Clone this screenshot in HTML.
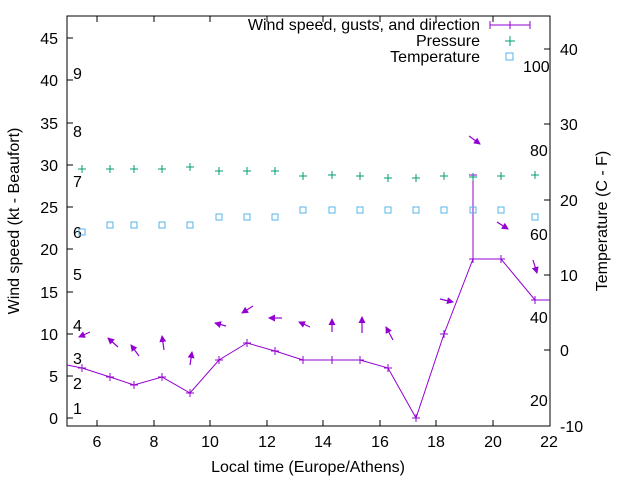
<!DOCTYPE html>
<html><head><style>body{margin:0;background:#fff}svg{display:block;font-family:"Liberation Sans",sans-serif}</style></head><body>
<svg width="640" height="480" viewBox="0 0 640 480">
<defs><marker id="a" markerWidth="7" markerHeight="7" refX="6" refY="3.5" orient="auto" markerUnits="userSpaceOnUse"><path d="M0,0 L7,3.5 L0,7 Z" fill="#9400d3"/></marker></defs>
<rect x="67" y="16" width="483" height="410" fill="none" stroke="#000"/>
<g stroke="#000">
<path d="M67,418h6M67,376h6M67,334h6M67,292h6M67,249h6M67,207h6M67,165h6M67,123h6M67,80h6M67,38h6"/>
<path d="M97,426v-6M154,426v-6M210,426v-6M267,426v-6M323,426v-6M380,426v-6M436,426v-6M493,426v-6M97,16v6M154,16v6M210,16v6M267,16v6M323,16v6M380,16v6M436,16v6M493,16v6"/>
<path d="M550,426h-6M550,350h-6M550,275h-6M550,200h-6M550,124h-6M550,49h-6"/>
</g>
<g font-size="16" fill="#000" text-anchor="end">
<text x="58" y="424">0</text><text x="58" y="382">5</text><text x="58" y="340">10</text><text x="58" y="298">15</text><text x="58" y="255">20</text><text x="58" y="213">25</text><text x="58" y="171">30</text><text x="58" y="129">35</text><text x="58" y="86">40</text><text x="58" y="44">45</text>
</g>
<g font-size="16" fill="#000" text-anchor="middle">
<text x="97" y="447">6</text><text x="154" y="447">8</text><text x="210" y="447">10</text><text x="267" y="447">12</text><text x="323" y="447">14</text><text x="380" y="447">16</text><text x="436" y="447">18</text><text x="493" y="447">20</text><text x="549" y="447">22</text>
</g>
<g font-size="16" fill="#000">
<text x="560" y="432">-10</text><text x="560" y="356">0</text><text x="560" y="281">10</text><text x="560" y="206">20</text><text x="560" y="130">30</text><text x="560" y="55">40</text>
<text x="73" y="414">1</text><text x="73" y="389">2</text><text x="73" y="364">3</text><text x="73" y="331">4</text><text x="73" y="280">5</text><text x="73" y="238">6</text><text x="73" y="187">7</text><text x="73" y="137">8</text><text x="73" y="79">9</text>
<text x="523" y="72">100</text><text x="530" y="156">80</text><text x="530" y="240">60</text><text x="530" y="323">40</text><text x="530" y="406">20</text>
</g>
<text x="308" y="472" font-size="16" text-anchor="middle">Local time (Europe/Athens)</text>
<text transform="translate(19,221) rotate(-90)" font-size="16" text-anchor="middle">Wind speed (kt - Beaufort)</text>
<text transform="translate(607,221) rotate(-90)" font-size="16" text-anchor="middle">Temperature (C - F)</text>
<g font-size="16" text-anchor="end">
<text x="480" y="30">Wind speed, gusts, and direction</text><text x="480" y="46">Pressure</text><text x="480" y="62">Temperature</text>
</g>
<path d="M490,25h40M490,21v8M530,21v8M510,21v8" stroke="#9400d3"/>
<path d="M505,41h10M510,36v10" stroke="#009e73"/>
<rect x="506" y="53" width="7" height="7" fill="none" stroke="#56b4e9"/>
<g stroke="#9400d3" fill="none">
<polyline points="67,365 82,368 110,377 134,385 162,377 190,393 219,360 247,343 275,351 303,360 332,360 360,360 388,368 416,418 444,334 473,259 501,259 535,300 550,300"/>
<path d="M473,259V175M469,175h8"/>
<path d="M82,364v8M110,373v8M134,381v8M162,373v8M190,389v8M219,356v8M247,339v8M275,347v8M303,356v8M332,356v8M360,356v8M388,364v8M416,414v8M444,330v8M473,255v8M501,255v8M535,296v8"/>
<path d="M78,368h8M106,377h8M130,385h8M158,377h8M186,393h8M215,360h8M243,343h8M271,351h8M299,360h8M328,360h8M356,360h8M384,368h8M412,418h8M440,334h8M469,259h8M497,259h8M531,300h8"/>
<g marker-end="url(#a)" stroke-width="1.2">
<line x1="90" y1="332" x2="79" y2="337"/><line x1="118" y1="347" x2="108" y2="338"/><line x1="139" y1="356" x2="131" y2="345"/><line x1="164" y1="350" x2="162" y2="336"/><line x1="190" y1="365" x2="192" y2="352"/><line x1="226" y1="326" x2="215" y2="323"/><line x1="253" y1="306" x2="242" y2="313"/><line x1="282" y1="318" x2="269" y2="318"/><line x1="310" y1="327" x2="299" y2="322"/><line x1="332" y1="332" x2="332" y2="319"/><line x1="362" y1="333" x2="362" y2="317"/><line x1="393" y1="340" x2="386" y2="327"/><line x1="440" y1="299" x2="453" y2="302"/><line x1="469" y1="136" x2="480" y2="144"/><line x1="497" y1="222" x2="508" y2="229"/><line x1="533" y1="260" x2="537" y2="273"/>
</g>
</g>
<g stroke="#009e73">
<path d="M78,169h8M82,165v8M106,169h8M110,165v8M130,169h8M134,165v8M158,169h8M162,165v8M186,167h8M190,163v8M215,171h8M219,167v8M243,171h8M247,167v8M271,171h8M275,167v8M299,176h8M303,172v8M328,175h8M332,171v8M356,176h8M360,172v8M384,178h8M388,174v8M412,178h8M416,174v8M440,176h8M444,172v8M469,177h8M473,173v8M497,176h8M501,172v8M531,175h8M535,171v8"/>
</g>
<g fill="none" stroke="#56b4e9">
<rect x="79" y="229" width="6" height="6"/><rect x="107" y="222" width="6" height="6"/><rect x="131" y="222" width="6" height="6"/><rect x="159" y="222" width="6" height="6"/><rect x="187" y="222" width="6" height="6"/><rect x="216" y="214" width="6" height="6"/><rect x="244" y="214" width="6" height="6"/><rect x="272" y="214" width="6" height="6"/><rect x="300" y="207" width="6" height="6"/><rect x="329" y="207" width="6" height="6"/><rect x="357" y="207" width="6" height="6"/><rect x="385" y="207" width="6" height="6"/><rect x="413" y="207" width="6" height="6"/><rect x="441" y="207" width="6" height="6"/><rect x="470" y="207" width="6" height="6"/><rect x="498" y="207" width="6" height="6"/><rect x="532" y="214" width="6" height="6"/>
</g>
</svg>
</body></html>
